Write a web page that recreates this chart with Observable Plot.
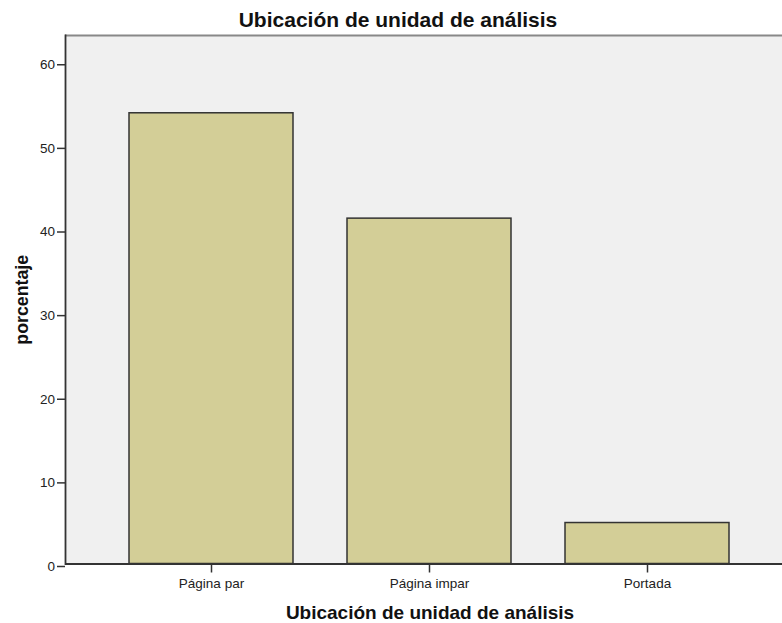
<!DOCTYPE html>
<html>
<head>
<meta charset="utf-8">
<script src="https://cdn.jsdelivr.net/npm/d3@7"></script>
<script src="https://cdn.jsdelivr.net/npm/@observablehq/plot@0.6"></script>
<style>
  body { margin: 0; background: #fff; }
</style>
</head>
<body>
<div id="chart"></div>
<script>
const categories = ["Página par", "Página impar", "Portada"];
const values = [53.9, 41.3, 4.9];
const yTicks = [0, 10, 20, 30, 40, 50, 60];
const title = "Ubicación de unidad de análisis";
const xTitle = "Ubicación de unidad de análisis";
const yTitle = "porcentaje";

const data = categories.map((c, i) => ({category: c, value: values[i]}));
const font = "'Liberation Sans', Arial, sans-serif";

const chart = Plot.plot({
  width: 782,
  height: 623,
  marginTop: 35,
  marginBottom: 59.5,
  marginLeft: 65,
  marginRight: 0,
  style: {fontFamily: font, background: "#fff", color: "#222"},
  x: {domain: categories, range: [65, 792], paddingInner: 0.25, paddingOuter: 0.289, label: null},
  y: {domain: [0, 63.2], label: null},
  marks: [
    Plot.frame({fill: "#f0f0f0", stroke: null}),
    Plot.ruleY([63.2], {stroke: "#888", strokeWidth: 2}),
    Plot.barY(data, {x: "category", y: "value", fill: "#d3ce97", stroke: "#333", strokeWidth: 1.5}),
    Plot.frame({anchor: "left", stroke: "#333", strokeWidth: 1.8}),
    Plot.ruleY([0], {stroke: "#333", strokeWidth: 1.8}),
    Plot.axisY({ticks: yTicks, tickSize: 8, tickPadding: 2.5, fontSize: 13.5, dy: 2.5, stroke: "#333", strokeWidth: 1.5, label: null}),
    Plot.axisX({tickSize: 9, tickPadding: 5.5, fontSize: 13.5, stroke: "#333", strokeWidth: 1.5, label: null}),
    Plot.text([title], {frameAnchor: "top", textAnchor: "middle", dx: -26, dy: -9, lineAnchor: "bottom", fontSize: 21, fontWeight: "bold", fill: "#111"}),
    Plot.text([xTitle], {frameAnchor: "bottom", textAnchor: "middle", dx: 6, dy: 54.5, lineAnchor: "bottom", fontSize: 19, fontWeight: "bold", fill: "#111"}),
    Plot.text([yTitle], {frameAnchor: "left", textAnchor: "middle", dx: -43.5, rotate: -90, lineAnchor: "middle", fontSize: 17.8, fontWeight: "bold", fill: "#111"})
  ]
});
document.getElementById("chart").appendChild(chart);
</script>
</body>
</html>
